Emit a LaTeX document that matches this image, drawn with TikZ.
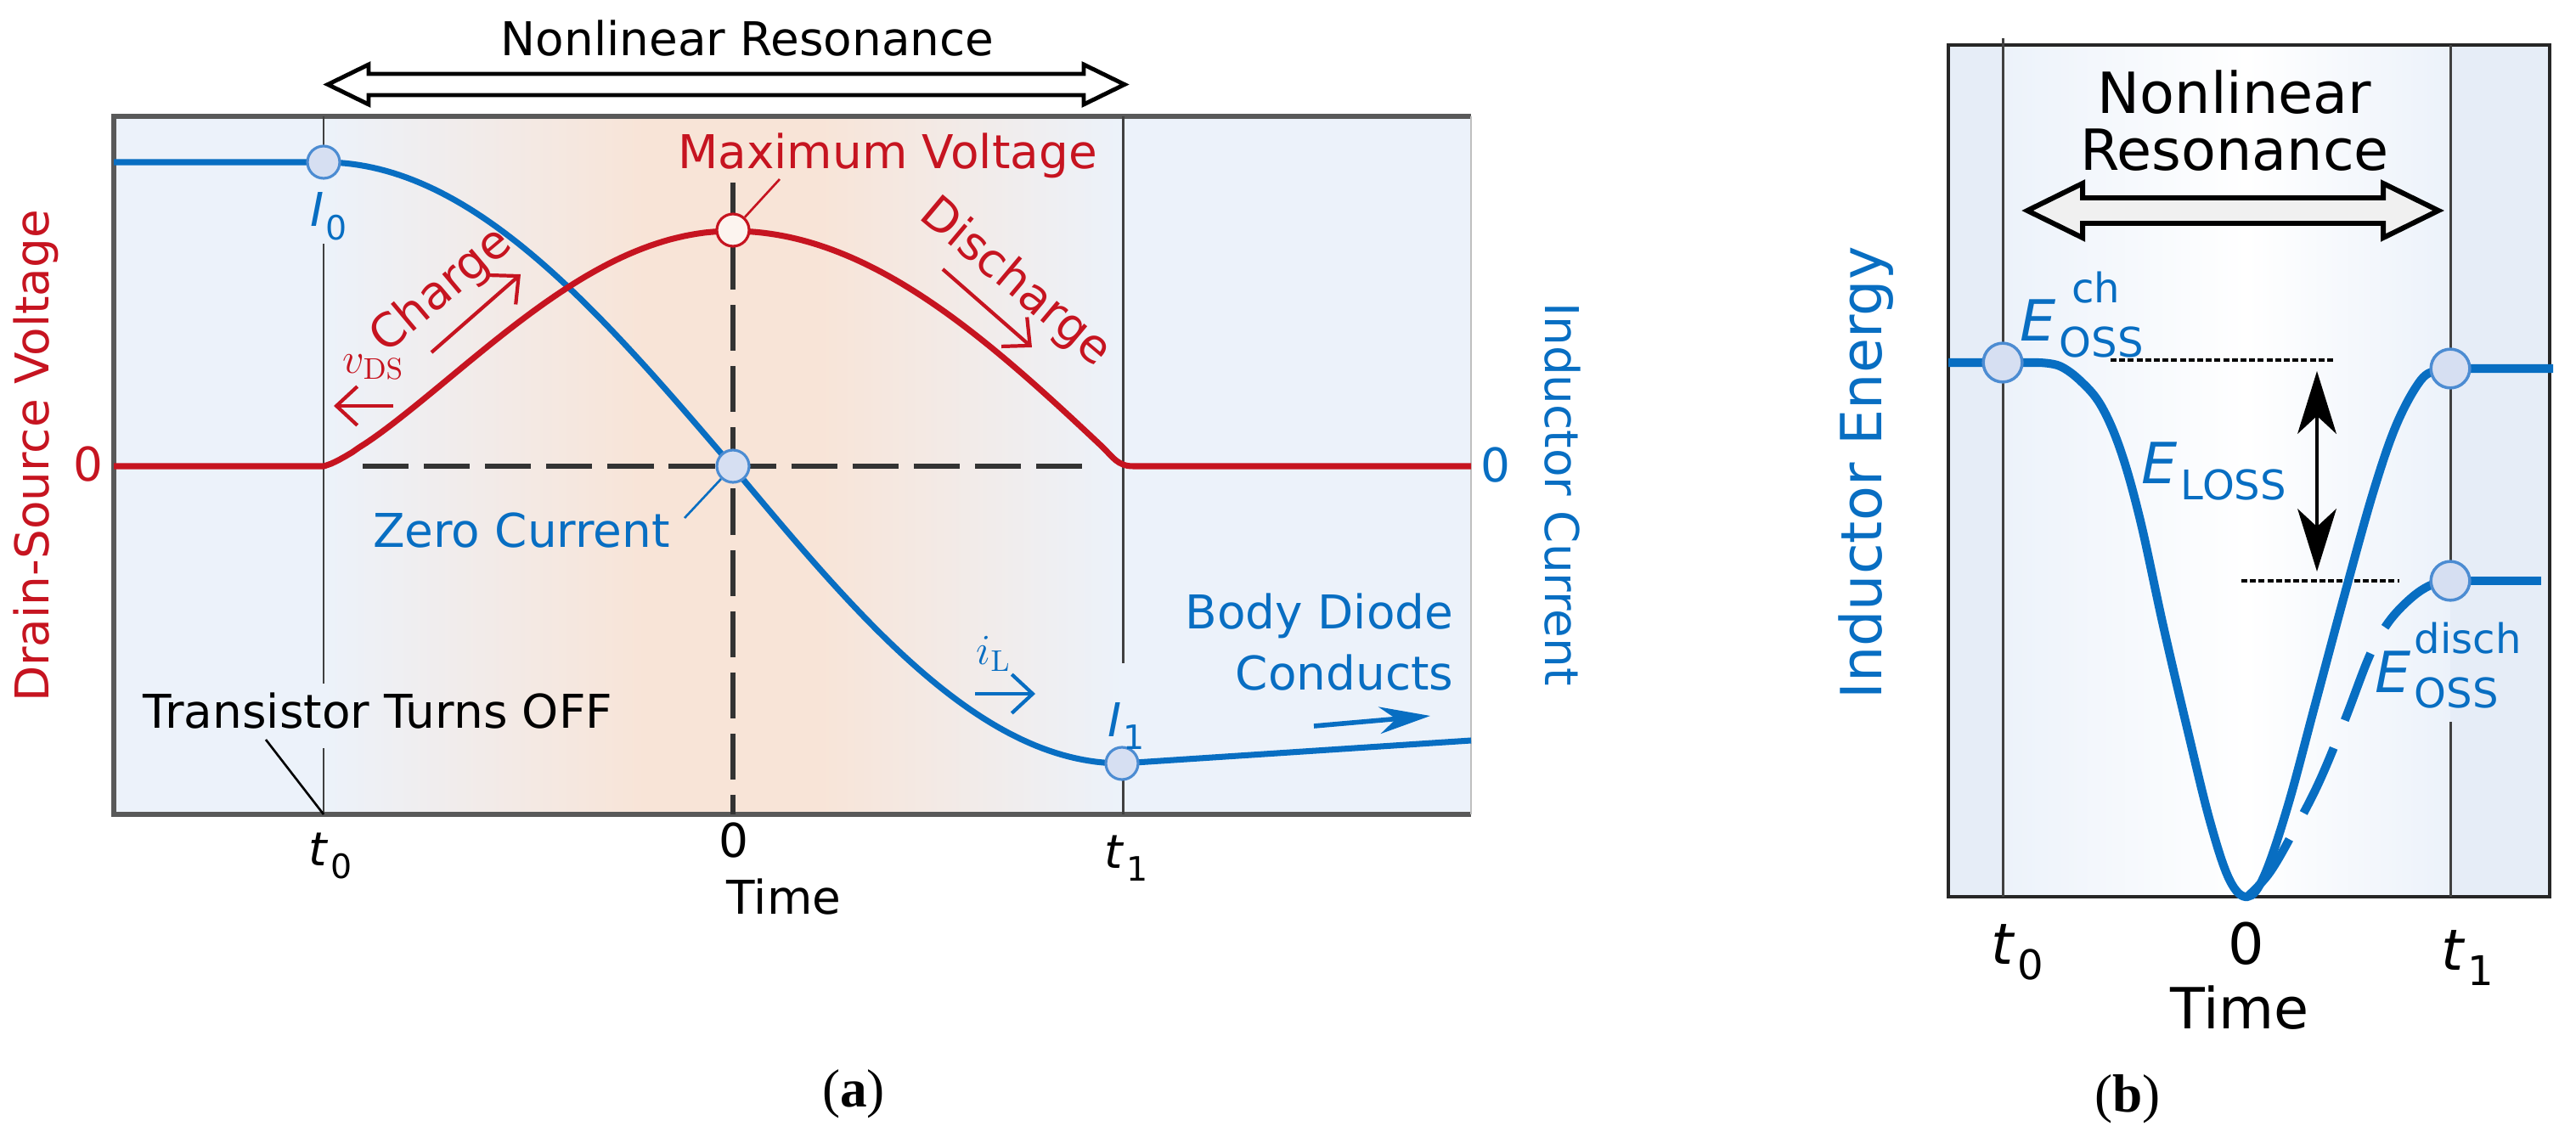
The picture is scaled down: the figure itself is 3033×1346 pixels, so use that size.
\documentclass[tikz,border=0pt]{standalone}
\usepackage[no-math]{fontspec}
\usepackage{graphicx}
\setmainfont{DejaVu Sans}
\newfontfamily\capfont{Liberation Serif}
\usetikzlibrary{positioning,arrows.meta}

\definecolor{vred}{RGB}{198,20,32}
\definecolor{iblue}{RGB}{8,110,194}
\definecolor{ringblue}{RGB}{76,140,210}
\definecolor{dotfill}{RGB}{214,223,242}
\definecolor{bgblue}{RGB}{236,242,250}
\definecolor{bgpeach}{RGB}{248,228,215}
\definecolor{bgside}{RGB}{230,237,247}

\newcommand\sbx[1]{\scalebox{.72}{#1}}
\newcommand\tsub[2]{\textit{#1}\kern.04em\raisebox{-.28em}{\sbx{#2}}}
\newcommand\Esub[2]{\textit{E}\kern.06em\rlap{\raisebox{.68em}{\sbx{#1}}}\raisebox{-.27em}{\sbx{#2}}}

\begin{document}
\begin{tikzpicture}[x=0.01cm,y=-0.01cm,
    every node/.style={inner sep=0pt},
    txa/.style={font=\fontsize{15.6}{20.5}\selectfont},
    txb/.style={font=\fontsize{19}{19}\selectfont},
    mlbl/.style={font=\fontsize{14}{16}\selectfont},
    caplbl/.style={font=\capfont\fontsize{18}{20}\selectfont, anchor=base},
    curvea/.style={line width=2pt},
    curveb/.style={line width=2.85pt, iblue},
    dotA/.style={circle, draw=ringblue, fill=dotfill, line width=0.9pt, minimum size=10.8pt},
    dotB/.style={dotA, minimum size=13pt, line width=1pt},
    tline/.style={line width=0.85pt, black!75},
    zeroline/.style={line width=1.9pt, black!80, dash pattern=on 15.4pt off 5.1pt},
    dotline/.style={line width=1.4pt, dash pattern=on 2pt off 0.9pt},
    lead/.style={line width=0.75pt},
    smallarr/.style={line width=1.2pt, -{Straight Barb[length=7pt,width=13pt]}},
    hollow/.style={line width=1.4pt, fill=white, line join=miter},
]
\useasboundingbox (0,0) rectangle (3033,1346);
\fill[white] (0,0) rectangle (3033,1346);

% (a) background and frame
\fill[bgblue] (134,137) rectangle (1732,959);
\shade[left color=bgblue, right color=bgpeach] (381,137) rectangle (760,959);
\fill[bgpeach] (759,137) rectangle (961,959);
\shade[left color=bgpeach, right color=bgblue] (960,137) rectangle (1322,959);
\draw[black!65, line width=1.5pt] (1732,137) -- (134,137) -- (134,959) -- (1732,959);
\draw[black!25, line width=0.8pt] (1732,137) -- (1732,959);

\draw[tline] (381,137) -- (381,210) (381,287) -- (381,805) (381,881) -- (381,959);
\draw[tline] (1322,137) -- (1322,781) (1322,880) -- (1322,959);
\draw[zeroline] (427,549) -- (1280,549);
\draw[zeroline] (863,215) -- (863,959);

% inductor current and drain-source voltage
\draw[curvea, iblue] (134,191) -- plot[domain=381:862,samples=60] (\x,{549-358*cos((\x-381)/481*90)})
    -- plot[domain=862:1321,samples=60] (\x,{549+350*sin((\x-862)/459*90)}) -- (1732,872);
\draw[curvea, vred] (134,549) -- (381,549)
    -- plot[domain=382:862,samples=60] (\x,{549-277*pow(sin((\x-381)/481*90),1.28)})
    -- plot[domain=862:1298,samples=60] (\x,{549-277*sin((1322-\x)/460*90)})
    .. controls (1310,538) and (1316,549) .. (1334,549) -- (1732,549);

\node[dotA] (i0) at (381,191) {};
\node[dotA, draw=vred, fill=white!60!bgpeach] (vmax) at (863,271) {};
\node[dotA] (zc) at (863,549) {};
\node[dotA] (i1) at (1321,899) {};

% hollow double arrow
\draw[hollow] (386,99.5) -- (434,76) -- (434,87) -- (1276,87) -- (1276,76) -- (1324,99.5)
    -- (1276,123) -- (1276,112) -- (434,112) -- (434,123) -- cycle;
\node[txa, anchor=base] (nlra) at (880,66) {Nonlinear Resonance};

% labels
\node[txa, vred, anchor=base] (mvlbl) at (1045,199) {Maximum Voltage};
\coordinate (mvtip) at (918,211);
\draw[lead, vred] (vmax) -- (mvtip);
\node[txa, iblue, anchor=base] (zclbl) at (614,644) {Zero Current};
\coordinate (zctip) at (806,610);
\draw[lead, iblue] (zc) -- (zctip);
\node[txa, anchor=base] (tto) at (445,857) {Transistor Turns OFF};
\coordinate (ttotip) at (313,871);
\coordinate (t0foot) at (381,959);
\draw[lead] (ttotip) -- (t0foot);

\node[txa, iblue, anchor=base] (i0lbl) at (387,267) {\tsub{I}{0}};
\node[txa, iblue, anchor=base] (i1lbl) at (1326,867) {\tsub{I}{1}};
\node[txa, vred, rotate=40] (chg) at (520,343) {Charge};
\node[txa, vred, rotate=-40] (dchg) at (1195,333) {Discharge};
\node[mlbl, vred] (vds) at (440,432) {$v_{\mathrm{DS}}$};
\node[mlbl, iblue] (il) at (1170,770) {$i_{\mathrm{L}}$};
\draw[smallarr, vred] (508,415) -- (613,323);
\draw[smallarr, vred] (1110,317) -- (1215,409);
\draw[smallarr, vred] (463,478) -- (393,478);
\draw[smallarr, iblue] (1148,817) -- (1219,817);
\node[txa, iblue, align=right, anchor=north east] (bdc) at (1712,698) {Body Diode\\Conducts};
\draw[line width=1.6pt, iblue, -{Stealth[length=17pt,width=9pt]}] (1547,855) -- (1684,843);

\node[txa, vred, rotate=90] (vaxis) at (42,537) {Drain-Source Voltage};
\node[txa, iblue, rotate=-90] (iaxis) at (1840,582) {Inductor Current};
\node[txa, vred] (zv) at (104,547) {0};
\node[txa, iblue] (zi) at (1761,548) {0};
\node[txa, anchor=base] (t0a) at (389,1019) {\tsub{t}{0}};
\node[txa, anchor=base] (za) at (864,1009) {0};
\node[txa, anchor=base] (t1a) at (1326,1022) {\tsub{t}{1}};
\node[txa, anchor=base] (timea) at (923,1076) {Time};
\node[caplbl] (capa) at (1005,1303) {(\textbf{a})};

% (b) background and frame
\fill[bgside] (2294,53) rectangle (3002,1056);
\shade[left color=bgblue, right color=white] (2358,53) rectangle (2645,1056);
\shade[left color=white, right color=bgblue] (2644,53) rectangle (2885,1056);
\draw[black!85, line width=1.1pt] (2294,53) rectangle (3002,1056);
\draw[tline] (2358,45) -- (2358,1056);
\draw[tline] (2885,53) -- (2885,707) (2885,850) -- (2885,1056);

\node[txb, align=center, anchor=north] (nlrb) at (2631,82) {Nonlinear\\Resonance};
\draw[hollow, fill=black!6, line width=1.7pt] (2387,248) -- (2452,216) -- (2452,233) -- (2806,233)
    -- (2806,216) -- (2871,248) -- (2806,280) -- (2806,263) -- (2452,263) -- (2452,280) -- cycle;

% inductor energy
\draw[dotline] (2485,424) -- (2747,424);
\draw[dotline] (2639,684) -- (2825,684);
\draw[curveb] (2294,427) -- (2400,427) -- plot[smooth, tension=0.6] coordinates {(2400,427) (2425,431)
    (2450,449) (2474,478) (2497,531) (2520,613) (2547,737) (2575,857) (2602,967) (2625,1036) (2646,1056)
    (2666,1031) (2694,948) (2726,829) (2763,691) (2795,577) (2822,499) (2850,448) (2870,436) (2886,434)}
    -- (3006,434);
\draw[curveb, dash pattern=on 24pt off 10pt] plot[smooth, tension=0.6] coordinates {(2646,1056)
    (2672,1028) (2700,980) (2730,922) (2760,850) (2790,772) (2812,733) (2838,705) (2862,689) (2886,684)};
\draw[curveb] (2885,684) -- (2992,684);
\draw[line width=1.2pt, {Stealth[length=21pt,width=13pt,inset=6pt]}-{Stealth[length=21pt,width=13pt,inset=6pt]}]
    (2728,437) -- (2728,673);

\node[dotB] (ech) at (2358,427) {};
\node[dotB] (eup) at (2885,434) {};
\node[dotB] (edis) at (2885,684) {};

\node[txb, iblue, anchor=base west] (echl) at (2378,402) {\Esub{\kern.3em ch}{OSS}};
\node[txb, iblue, anchor=base west] (elossl) at (2521,570) {\Esub{}{LOSS}};
\node[txb, iblue, anchor=base west] (edisl) at (2796,815) {\Esub{disch}{OSS}};
\node[txb, iblue, rotate=90] (eaxis) at (2197,557) {Inductor Energy};
\node[txb, anchor=base] (t0b) at (2375,1135) {\tsub{t}{0}};
\node[txb, anchor=base] (zb) at (2645,1135) {0};
\node[txb, anchor=base] (t1b) at (2905,1142) {\tsub{t}{1}};
\node[txb, anchor=base] (timeb) at (2637,1211) {Time};
\node[caplbl] (capb) at (2505,1309) {(\textbf{b})};
\end{tikzpicture}
\end{document}
